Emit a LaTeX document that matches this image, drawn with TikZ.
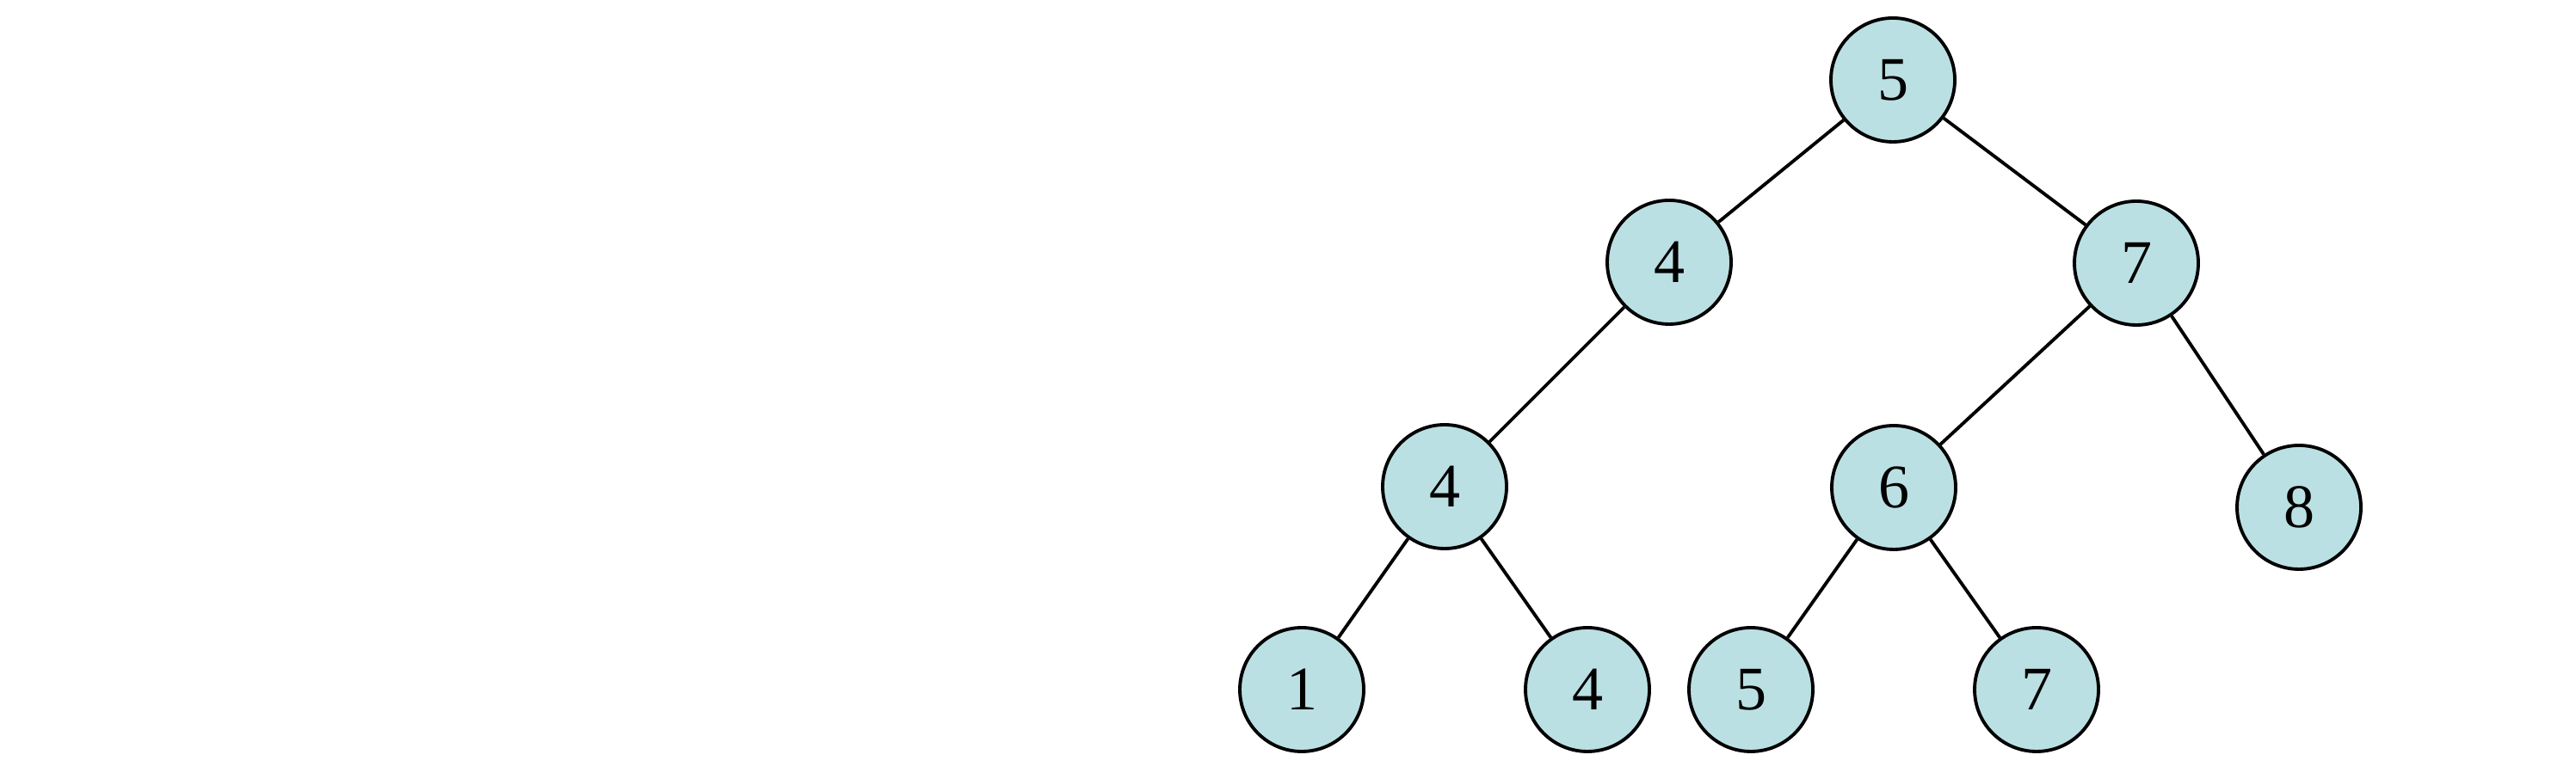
\documentclass[tikz,border=0pt]{standalone}
\usepackage{fontspec}
\setmainfont{Liberation Serif}
\usepackage{tikz}
\definecolor{nodeblue}{RGB}{187,224,227}

\begin{document}
\begin{tikzpicture}[bstnode/.style={circle, draw, fill=nodeblue, line width=1.1pt, minimum size=1.44cm, inner sep=0pt, font=\fontsize{20.5}{24}\selectfont}, edge/.style={-, line width=1.1pt}]
\useasboundingbox (0,0) rectangle (29.94,8.99);

\node [bstnode] at (22.00,8.06) (root5) {5};
\node [bstnode] at (19.40,5.94) (l4) {4};
\node [bstnode] at (24.83,5.93) (r7) {7};
\node [bstnode] at (16.79,3.33) (ll4) {4};
\node [bstnode] at (22.01,3.32) (rl6) {6};
\node [bstnode] at (26.72,3.09) (rr8) {8};
\node [bstnode] at (15.13,0.97) (lll1) {1};
\node [bstnode] at (18.45,0.97) (llr4) {4};
\node [bstnode] at (20.35,0.97) (rll5) {5};
\node [bstnode] at (23.67,0.97) (rlr7) {7};

\draw [edge] (root5) -- (l4);
\draw [edge] (root5) -- (r7);
\draw [edge] (l4) -- (ll4);
\draw [edge] (r7) -- (rl6);
\draw [edge] (r7) -- (rr8);
\draw [edge] (ll4) -- (lll1);
\draw [edge] (ll4) -- (llr4);
\draw [edge] (rl6) -- (rll5);
\draw [edge] (rl6) -- (rlr7);
\end{tikzpicture}
\end{document}
